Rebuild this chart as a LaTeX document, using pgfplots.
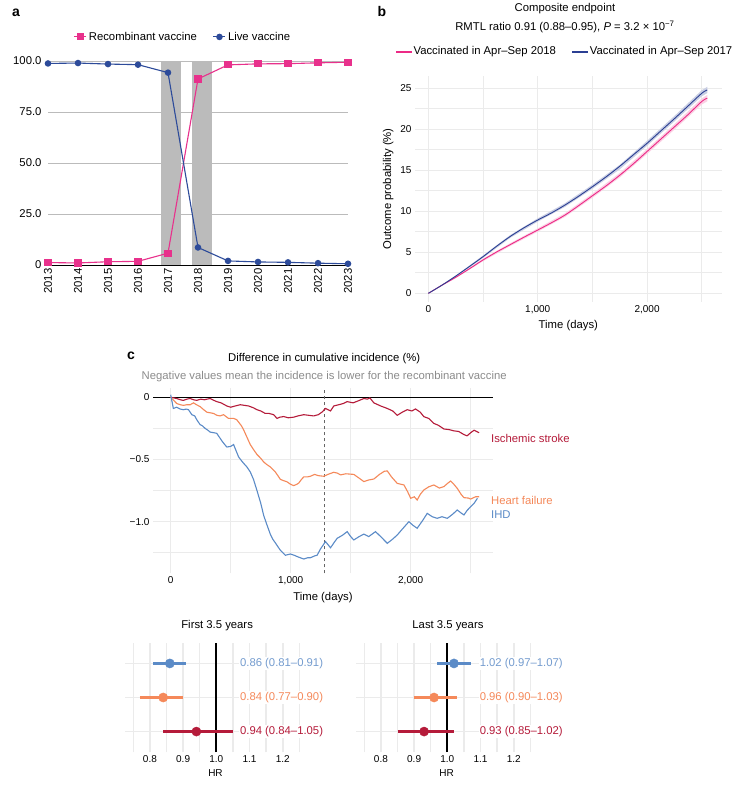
\documentclass[border=0pt]{standalone}
\usepackage{fontspec}
\setmainfont{Liberation Sans}
\usepackage{pgfplots}
\pgfplotsset{compat=1.18}
\definecolor{rpink}{HTML}{E8318C}
\definecolor{lblue}{HTML}{2D4B9A}
\definecolor{bpink}{HTML}{EC2A86}
\definecolor{bblue}{HTML}{2B3F93}
\definecolor{bargray}{HTML}{BBBBBB}
\definecolor{gridc}{HTML}{EBEBEB}
\definecolor{ihd}{HTML}{5B8BC7}
\definecolor{hf}{HTML}{F5895A}
\definecolor{isc}{HTML}{B51B3A}
\newcommand\fA{\fontsize{11.3}{13}\selectfont}
\newcommand\fT{\fontsize{10}{12}\selectfont}
\newcommand\fL{\fontsize{14}{16}\selectfont\bfseries}
\begin{document}
\begin{tikzpicture}
\path[use as bounding box] (0pt,0pt) rectangle (747pt,-790pt);
\fill[white] (0pt,0pt) rectangle (747pt,-790pt);
\node[font=\fL] at (16pt,-12.5pt) {a};
\node[font=\fL] at (382pt,-11pt) {b};
\node[font=\fL] at (131pt,-356pt) {c};

% ---------------- panel a
\begin{axis}[
  at={(48pt,-265pt)}, anchor=south west, scale only axis,
  width=300pt, height=204pt,
  xmin=2013, xmax=2023, ymin=0, ymax=100, clip=false,
  axis line style={draw=none}, major tick length=0pt,
  xtick={2013,2014,2015,2016,2017,2018,2019,2020,2021,2022,2023},
  xticklabels={2013,2014,2015,2016,2017,2018,2019,2020,2021,2022,2023},
  ytick={0,25,50,75,100}, yticklabels={0,25.0,50.0,75.0,100.0},
  ymajorgrids, major grid style={bargray, line width=0.8pt},
  ticklabel style={font=\fA},
  xticklabel style={rotate=90, anchor=east},
  yticklabel style={xshift=-3pt},
  legend columns=2,
  legend style={at={(0.45,1.118)}, anchor=center, draw=none, fill=none, font=\fA,
    /tikz/every even column/.append style={column sep=14pt}},
  legend image code/.code={\draw[mark repeat=2,mark phase=2,#1] plot coordinates {(0pt,0pt) (6pt,0pt) (12pt,0pt)};},
]
\addplot[fill=bargray, draw=none, forget plot] coordinates {(2016.77,0) (2017.43,0) (2017.43,100) (2016.77,100)} -- cycle;
\addplot[fill=bargray, draw=none, forget plot] coordinates {(2017.8,0) (2018.47,0) (2018.47,100) (2017.8,100)} -- cycle;
\addplot[black, line width=0.8pt, forget plot] coordinates {(2013,0) (2023,0)};
\addplot[rpink, line width=1.1pt, mark=square*, mark size=3pt] coordinates {
 (2013,1.2) (2014,1.0) (2015,1.6) (2016,1.8) (2017,5.8) (2018,91.2) (2019,98.1) (2020,98.6) (2021,98.7) (2022,99.1) (2023,99.4)};
\addlegendentry{Recombinant vaccine}
\addplot[lblue, line width=1.1pt, mark=*, mark size=2.7pt] coordinates {
 (2013,98.8) (2014,99.0) (2015,98.5) (2016,98.2) (2017,94.3) (2018,8.6) (2019,2.0) (2020,1.5) (2021,1.3) (2022,0.9) (2023,0.6)};
\addlegendentry{Live vaccine}
\end{axis}

% ---------------- panel b
\begin{axis}[
  at={(415pt,-301.7pt)}, anchor=south west, scale only axis,
  width=306.7pt, height=225.7pt,
  xmin=-122, xmax=2682, ymin=-1.02, ymax=26.5, clip mode=individual,
  axis line style={draw=none}, major tick length=0pt, minor tick length=0pt,
  xtick={0,1000,2000}, xticklabels={0,{1,000},{2,000}}, minor xtick={500,1500,2500},
  ytick={0,5,10,15,20,25}, yticklabels={0,5,10,15,20,25},
  minor ytick={2.5,7.5,12.5,17.5,22.5},
  grid=both, major grid style={gridc, line width=0.9pt}, minor grid style={gridc, line width=0.8pt},
  ticklabel style={font=\fT},
  xlabel={Time (days)}, ylabel={Outcome probability (\%)},
  label style={font=\fA},
  legend columns=2,
  legend style={at={(0.489,1.108)}, anchor=center, draw=none, fill=none, font=\fA,
    /tikz/every even column/.append style={column sep=14pt}},
  legend image code/.code={\fill[#1] (0pt,-0.65pt) rectangle (15pt,0.65pt);},
]
\addplot[fill=bblue!25, draw=none, forget plot] coordinates {
 (0,0) (250,2.15) (500,4.62) (750,7.12) (1000,9.14) (1250,10.99) (1500,13.25) (1750,15.67) (2000,18.6) (2250,21.63) (2500,24.77) (2550,25.18)
 (2550,24.42) (2500,24.03) (2250,20.97) (2000,18.0) (1750,15.13) (1500,12.75) (1250,10.55) (1000,8.74) (750,6.78) (500,4.32) (250,1.95) (0,0)} -- cycle;
\addplot[fill=bpink!22, draw=none, forget plot] coordinates {
 (0,0) (250,2.05) (500,4.22) (750,6.12) (1000,7.92) (1250,9.77) (1500,12.15) (1750,14.67) (2000,17.6) (2250,20.63) (2500,23.77) (2550,24.18)
 (2550,23.42) (2500,23.03) (2250,19.97) (2000,17.0) (1750,14.13) (1500,11.65) (1250,9.33) (1000,7.52) (750,5.78) (500,3.92) (250,1.85) (0,0)} -- cycle;
\addplot[bpink, line width=0.9pt, smooth] coordinates {
 (0,0) (125,1.0) (250,1.95) (375,2.99) (500,4.07) (625,5.05) (750,5.95) (875,6.85) (1000,7.72) (1125,8.6) (1250,9.55)
 (1375,10.7) (1500,11.9) (1625,13.1) (1750,14.4) (1875,15.8) (2000,17.3) (2125,18.8) (2250,20.3) (2375,21.8) (2500,23.4) (2550,23.8)};
\addlegendentry{Vaccinated in Apr–Sep 2018}
\addplot[bblue, line width=0.9pt, smooth] coordinates {
 (0,0) (125,1.0) (250,2.1) (375,3.27) (500,4.47) (625,5.75) (750,6.95) (875,8.0) (1000,8.94) (1125,9.8) (1250,10.77)
 (1375,11.85) (1500,13.0) (1625,14.2) (1750,15.5) (1875,16.9) (2000,18.3) (2125,19.8) (2250,21.3) (2375,22.85) (2500,24.4) (2550,24.8)};
\addlegendentry{Vaccinated in Apr–Sep 2017}
\node[font=\fA] at (rel axis cs:0.489,1.297) {Composite endpoint};
\node[font=\fA] at (rel axis cs:0.489,1.218) {RMTL ratio 0.91 (0.88–0.95), \textit{P} = 3.2 × 10\textsuperscript{−7}};
\end{axis}

% ---------------- panel c
\begin{axis}[
  at={(153pt,-573.3pt)}, anchor=south west, scale only axis,
  width=340pt, height=185pt,
  xmin=-147.5, xmax=2686, ymin=-1.415, ymax=0.072, clip mode=individual,
  axis line style={draw=none}, major tick length=0pt, minor tick length=0pt,
  xtick={0,1000,2000}, xticklabels={0,{1,000},{2,000}}, minor xtick={500,1500,2500},
  ytick={-1,-0.5,0}, yticklabels={−1.0,−0.5,0}, minor ytick={-1.25,-0.75,-0.25},
  grid=both, major grid style={gridc, line width=0.9pt}, minor grid style={gridc, line width=0.8pt},
  ticklabel style={font=\fT},
  xlabel={Time (days)}, label style={font=\fA},
]
\addplot[black, line width=0.9pt] coordinates {(-147.5,0) (2686,0)};
\addplot[black!60, dashed, line width=0.8pt] coordinates {(1278,-1.415) (1278,0.072)};
\addplot[isc, line width=1.1pt] coordinates {
(0,0) (25,-0.005) (50,-0.01) (80,-0.02) (106,-0.025) (135,-0.015) (162,-0.01) (190,-0.02) (217,-0.025) (250,-0.015)
(280,-0.02) (329,-0.01) (360,-0.025) (384,-0.035) (420,-0.045) (468,-0.07) (500,-0.08) (538,-0.07) (580,-0.06) (615,-0.065)
(649,-0.07) (690,-0.085) (719,-0.10) (750,-0.11) (788,-0.13) (820,-0.13) (858,-0.14) (886,-0.17) (910,-0.16) (942,-0.155)
(980,-0.165) (1025,-0.16) (1060,-0.15) (1109,-0.14) (1150,-0.145) (1192,-0.15) (1230,-0.14) (1260,-0.12) (1290,-0.09) (1332,-0.11)
(1359,-0.07) (1400,-0.06) (1440,-0.05) (1471,-0.035) (1520,-0.045) (1560,-0.03) (1610,-0.01) (1640,-0.015) (1660,-0.005) (1693,-0.045)
(1750,-0.07) (1805,-0.09) (1850,-0.11) (1888,-0.145) (1930,-0.12) (1971,-0.10) (2010,-0.11) (2040,-0.094) (2080,-0.12) (2110,-0.156)
(2150,-0.17) (2193,-0.21) (2230,-0.225) (2277,-0.255) (2320,-0.26) (2360,-0.27) (2400,-0.275) (2444,-0.30) (2470,-0.31) (2500,-0.285)
(2528,-0.265) (2570,-0.285)};
\addplot[hf, line width=1.1pt] coordinates {
(0,0) (30,-0.03) (50,-0.05) (80,-0.06) (106,-0.065) (135,-0.06) (162,-0.06) (190,-0.045) (215,-0.06) (245,-0.075)
(275,-0.10) (301,-0.12) (330,-0.125) (357,-0.13) (385,-0.145) (412,-0.15) (440,-0.14) (482,-0.17) (524,-0.17) (550,-0.18)
(566,-0.2) (590,-0.23) (607,-0.26) (635,-0.32) (663,-0.38) (690,-0.42) (719,-0.46) (750,-0.49) (775,-0.52) (800,-0.54)
(830,-0.56) (872,-0.60) (900,-0.64) (914,-0.66) (940,-0.67) (970,-0.68) (1000,-0.70) (1025,-0.71) (1050,-0.70) (1067,-0.69)
(1090,-0.66) (1109,-0.64) (1140,-0.64) (1164,-0.635) (1200,-0.62) (1230,-0.63) (1276,-0.635) (1310,-0.62) (1359,-0.603) (1390,-0.61)
(1415,-0.624) (1460,-0.615) (1526,-0.62) (1570,-0.65) (1610,-0.678) (1650,-0.665) (1693,-0.657) (1740,-0.62) (1780,-0.595) (1805,-0.592)
(1840,-0.64) (1888,-0.692) (1944,-0.705) (1975,-0.76) (2000,-0.812) (2030,-0.80) (2054,-0.826) (2080,-0.78) (2110,-0.745) (2150,-0.72)
(2193,-0.705) (2240,-0.73) (2277,-0.718) (2310,-0.69) (2333,-0.673) (2360,-0.70) (2388,-0.732) (2420,-0.78) (2444,-0.807) (2480,-0.81)
(2500,-0.818) (2540,-0.80) (2570,-0.80)};
\addplot[ihd, line width=1.1pt] coordinates {
(0,0.02) (10,-0.03) (22,-0.09) (50,-0.08) (80,-0.095) (106,-0.10) (130,-0.095) (148,-0.10) (176,-0.14) (200,-0.15)
(217,-0.18) (245,-0.22) (265,-0.23) (287,-0.25) (310,-0.265) (329,-0.28) (360,-0.285) (384,-0.29) (405,-0.32) (426,-0.35)
(450,-0.38) (468,-0.40) (500,-0.395) (524,-0.38) (545,-0.43) (566,-0.48) (590,-0.51) (607,-0.53) (635,-0.56) (663,-0.60)
(690,-0.66) (719,-0.75) (750,-0.85) (775,-0.95) (800,-1.02) (830,-1.10) (850,-1.14) (872,-1.17) (914,-1.23) (956,-1.27)
(997,-1.26) (1030,-1.27) (1053,-1.28) (1080,-1.29) (1109,-1.30) (1140,-1.29) (1164,-1.29) (1200,-1.275) (1220,-1.27) (1248,-1.22)
(1262,-1.20) (1290,-1.16) (1332,-1.21) (1360,-1.17) (1387,-1.134) (1430,-1.11) (1471,-1.08) (1500,-1.12) (1526,-1.147) (1570,-1.12)
(1610,-1.10) (1650,-1.12) (1707,-1.08) (1750,-1.12) (1805,-1.174) (1850,-1.14) (1888,-1.107) (1930,-1.06) (1985,-1.00) (2020,-1.03)
(2054,-1.053) (2100,-0.99) (2138,-0.933) (2180,-0.96) (2221,-0.973) (2260,-0.96) (2305,-0.973) (2350,-0.94) (2388,-0.906) (2420,-0.93)
(2444,-0.946) (2470,-0.91) (2500,-0.879) (2530,-0.85) (2556,-0.812)};
\node[font=\fA, text=isc, anchor=west, inner sep=0pt] at (axis cs:2669,-0.33) {Ischemic stroke};
\node[font=\fA, text=hf, anchor=west, inner sep=0pt] at (axis cs:2669,-0.826) {Heart failure};
\node[font=\fA, text=ihd, anchor=west, inner sep=0pt] at (axis cs:2669,-0.946) {IHD};
\node[font=\fA] at (rel axis cs:0.5035,1.158) {Difference in cumulative incidence (\%)};
\node[font=\fA, text=black!45] at (rel axis cs:0.5035,1.0627) {Negative values mean the incidence is lower for the recombinant vaccine};
\end{axis}

% ---------------- forest plots
\pgfplotsset{forest/.style={
  anchor=south west, scale only axis, width=181pt, height=109pt,
  xmin=0.725, xmax=1.27, ymin=0.4, ymax=3.6, clip=false,
  axis line style={draw=none}, major tick length=0pt, minor tick length=0pt,
  xtick={0.8,0.9,1.0,1.1,1.2}, xticklabels={0.8,0.9,1.0,1.1,1.2},
  minor xtick={0.75,0.85,0.95,1.05,1.15,1.25},
  ytick={1,2,3}, yticklabels={,,},
  grid=both, major grid style={gridc, line width=1.7pt}, minor grid style={gridc, line width=1.5pt},
  ticklabel style={font=\fT}, xlabel={HR}, label style={font=\fT},
}}
\begin{axis}[forest, at={(125pt,-752pt)}]
\addplot[black, line width=1.7pt] coordinates {(1,0.4) (1,3.6)};
\addplot[ihd, line width=3.3pt] coordinates {(0.81,3) (0.91,3)};
\addplot[ihd, only marks, mark=*, mark size=4.6pt] coordinates {(0.86,3)};
\addplot[hf, line width=3.3pt] coordinates {(0.77,2) (0.90,2)};
\addplot[hf, only marks, mark=*, mark size=4.6pt] coordinates {(0.84,2)};
\addplot[isc, line width=3.3pt] coordinates {(0.84,1) (1.05,1)};
\addplot[isc, only marks, mark=*, mark size=4.6pt] coordinates {(0.94,1)};
\node[font=\fA, text=ihd!85, fill=white, anchor=west, inner sep=1pt] at (axis cs:1.068,3) {0.86 (0.81–0.91)};
\node[font=\fA, text=hf, fill=white, anchor=west, inner sep=1pt] at (axis cs:1.068,2) {0.84 (0.77–0.90)};
\node[font=\fA, text=isc, fill=white, anchor=west, inner sep=1pt] at (axis cs:1.068,1) {0.94 (0.84–1.05)};
\node[font=\fA] at (rel axis cs:0.509,1.156) {First 3.5 years};
\end{axis}
\begin{axis}[forest, at={(356pt,-752pt)}]
\addplot[black, line width=1.7pt] coordinates {(1,0.4) (1,3.6)};
\addplot[ihd, line width=3.3pt] coordinates {(0.97,3) (1.07,3)};
\addplot[ihd, only marks, mark=*, mark size=4.6pt] coordinates {(1.02,3)};
\addplot[hf, line width=3.3pt] coordinates {(0.90,2) (1.03,2)};
\addplot[hf, only marks, mark=*, mark size=4.6pt] coordinates {(0.96,2)};
\addplot[isc, line width=3.3pt] coordinates {(0.85,1) (1.02,1)};
\addplot[isc, only marks, mark=*, mark size=4.6pt] coordinates {(0.93,1)};
\node[font=\fA, text=ihd!85, fill=white, anchor=west, inner sep=1pt] at (axis cs:1.094,3) {1.02 (0.97–1.07)};
\node[font=\fA, text=hf, fill=white, anchor=west, inner sep=1pt] at (axis cs:1.094,2) {0.96 (0.90–1.03)};
\node[font=\fA, text=isc, fill=white, anchor=west, inner sep=1pt] at (axis cs:1.094,1) {0.93 (0.85–1.02)};
\node[font=\fA] at (rel axis cs:0.508,1.156) {Last 3.5 years};
\end{axis}
\end{tikzpicture}
\end{document}
